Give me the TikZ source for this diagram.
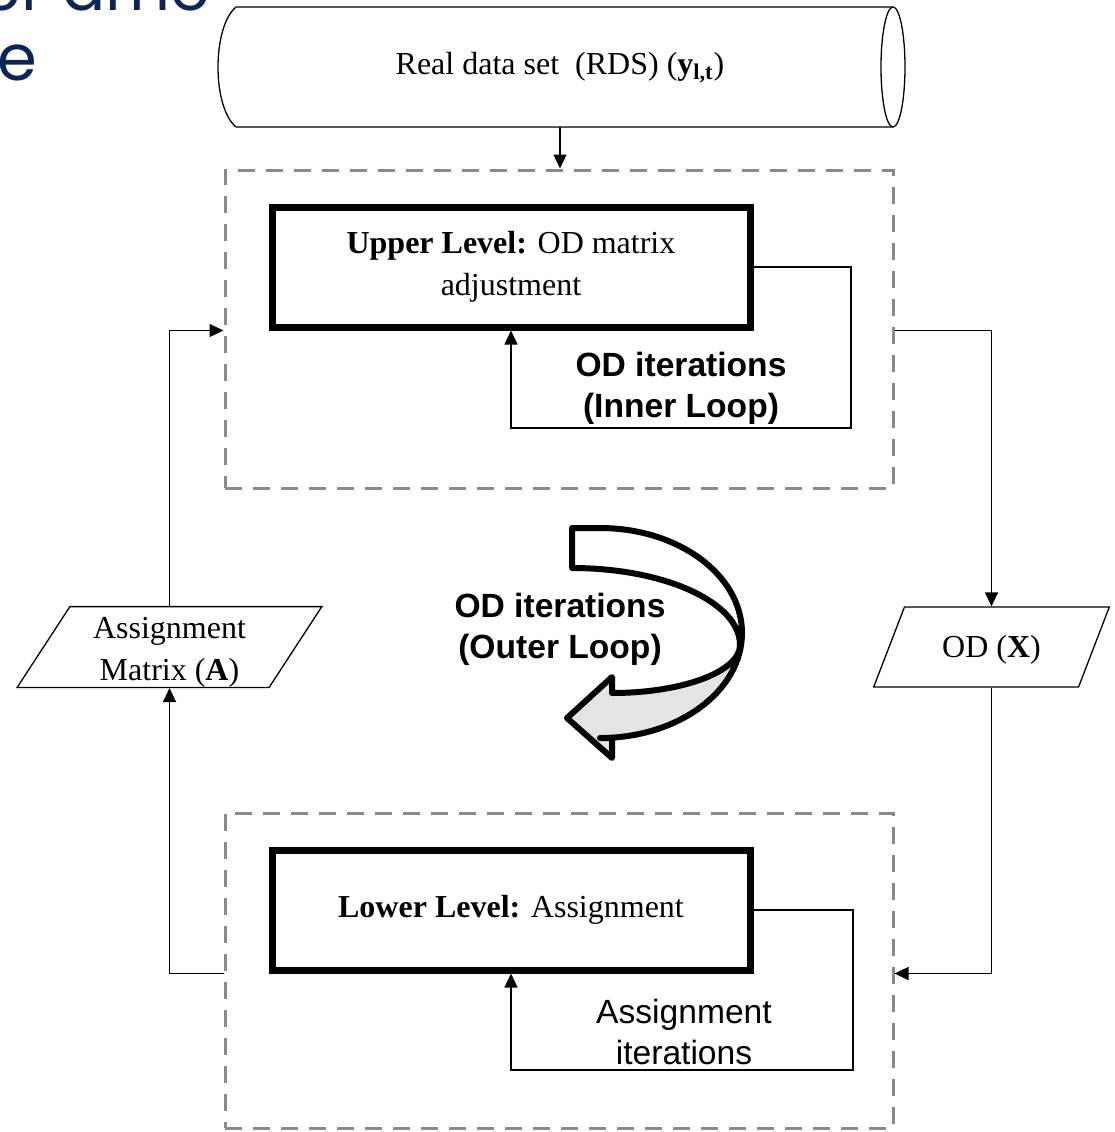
\documentclass[tikz,border=0pt]{standalone}
\usepackage{fontspec}
\setmainfont{Liberation Serif}
\newfontfamily\labelsans{Liberation Sans}
\newfontfamily\titlesans{Poppins}
\usetikzlibrary{arrows.meta,shapes.geometric}

\definecolor{navy}{RGB}{12,37,86}
\definecolor{dashgray}{RGB}{138,138,138}
\definecolor{bandgray}{RGB}{228,228,228}

\newcommand\serifsize{\fontsize{16}{21}\selectfont}
\newcommand\labelsize{\labelsans\fontsize{16.8}{20.5}\selectfont}

\begin{document}
\begin{tikzpicture}[x=0.5pt,y=-0.5pt,
  thin line/.style={line width=0.65pt},
  conn/.style={thin line,-{Triangle[length=7pt,width=6.5pt]}},
  frame/.style={draw=dashgray,line width=1.5pt,dash pattern=on 8.5pt off 5.5pt,
    minimum width=334pt,inner sep=0pt},
  levelbox/.style={draw,line width=3.5pt,minimum width=239pt,minimum height=60pt,
    align=center,font=\serifsize,inner sep=0pt},
  para/.style={trapezium,trapezium left angle=63.4,trapezium right angle=116.6,
    trapezium stretches=true,draw,thin line,minimum height=40pt,
    align=center,font=\serifsize,inner sep=0pt},
  looplabel/.style={align=center,font=\labelsize,inner sep=0pt},
  title/.style={anchor=base west,inner sep=0pt,text=navy,
    font=\titlesans\fontsize{32}{32}\selectfont}]

\useasboundingbox (0,0) rectangle (1115,1132);

% slide title, running off the top-left corner
\node[title] (titleA) at (-19,10) {er arne};
\node[title] (titleB) at (-3,80) {e};

% data store drawn as a horizontal drum
\draw[thin line] (236,7) -- (893,7)
  (236,127) -- (893,127)
  (236,7) .. controls (212,27) and (212,107) .. (236,127);
\draw[thin line] (893,67) ellipse [x radius=6pt,y radius=30pt];
\node[font=\serifsize,inner sep=0pt] (rds) at (560,68)
  {Real data set\enspace(RDS) (\textbf{y}\textsubscript{\textbf{l,t}})};
\coordinate (rdsS) at (560,127);

% the two levels
\node[frame,minimum height=159pt] (ub) at (559,329) {};
\node[frame,minimum height=157.5pt] (lb) at (559,970.5) {};
\node[levelbox] (ul) at (511,267) {\textbf{Upper Level:} OD matrix\\adjustment};
\node[levelbox] (ll) at (511,910) {\textbf{Lower Level:} Assignment};

% exchanged data
\node[para,minimum width=152.5pt] (am) at (169.5,647)
  {\rule{0pt}{16pt}Assignment\\Matrix (\textbf{A})};
\node[para,minimum width=118.5pt] (od) at (991.5,647)
  {\rule{0pt}{14pt}OD (\textbf{X})};

% loop labels
\node[looplabel,font=\labelsize\bfseries] (innerlbl) at (681,388) {OD iterations\\(Inner Loop)};
\node[looplabel] (asgnlbl) at (684,1032) {Assignment\\iterations};
\node[looplabel,font=\labelsize\bfseries] (outerlbl) at (560,629) {OD iterations\\(Outer Loop)};

% connectors
\draw[conn] (rdsS) -- (rdsS |- ub.north);
\draw[conn] (ul.east) -| (851,428) -| (ul.south);
\draw[conn] (ll.east) -| (853,1070) -| (ll.south);
\draw[conn] (ub.east |- ul.south) -| (od.north);
\draw[conn] (od.south) |- (lb.east |- ll.south);
\draw[conn] (lb.west |- ll.south) -| (am.south);
\draw[conn] (am.north) |- (ub.west |- ul.south);

% outer loop: folded ribbon arrow
\def\ribbon{(572,528) -- (600,528)
  .. controls (678.4,528) and (742,575) .. (742,633)
  .. controls (742,691) and (678.4,738) .. (600,738)
  -- (612,738) -- (612,758) -- (567,718) -- (612,677) -- (612,693)
  .. controls (682.7,693) and (740,671.5) .. (740,645)
  .. controls (740,602.5) and (664.8,568) .. (572,568) -- cycle}
\fill[bandgray] \ribbon;
\fill[white] (572,528) -- (600,528)
  .. controls (678.4,528) and (742,575) .. (742,633)
  -- (740,645)
  .. controls (740,602.5) and (664.8,568) .. (572,568) -- cycle;
\draw[line width=3pt,line join=round] \ribbon;
\end{tikzpicture}
\end{document}
